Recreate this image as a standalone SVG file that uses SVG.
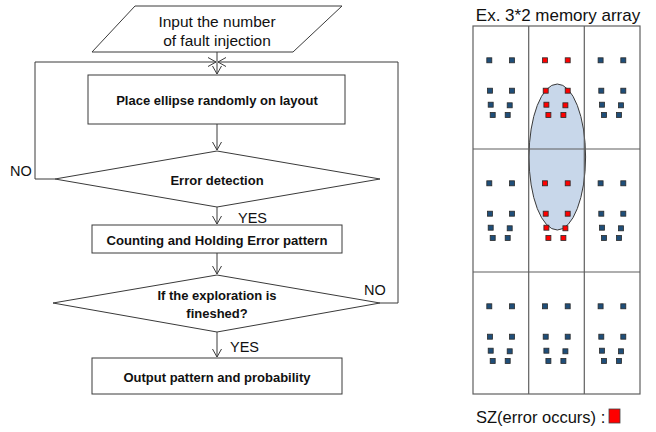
<svg xmlns="http://www.w3.org/2000/svg" xmlns:xlink="http://www.w3.org/1999/xlink" width="656" height="432" viewBox="0 0 656 432">
<style>
.shape{fill:#fff;stroke:#3a3a3a;stroke-width:1}
.line{fill:none;stroke:#3a3a3a;stroke-width:1}
.reg{font-family:"Liberation Sans",Arial,sans-serif;font-size:15.5px;fill:#111;text-anchor:middle}
.bold{font-family:"Liberation Sans",Arial,sans-serif;font-size:13px;font-weight:bold;fill:#111;text-anchor:middle}
.lbl{font-family:"Liberation Sans",Arial,sans-serif;font-size:14.5px;fill:#111}
.grid{fill:none;stroke:#5f5f5f;stroke-width:1.2}
.b{fill:#1f4e79;stroke:#2a2a2a;stroke-width:0.8}
.r{fill:#ff0000;stroke:#2a2a2a;stroke-width:0.8}
</style>
<defs>
<marker id="arr" markerWidth="10" markerHeight="10" refX="8" refY="5" orient="auto" markerUnits="userSpaceOnUse">
<path d="M0,0.5 L8,5 L0,9.5" fill="none" stroke="#3a3a3a" stroke-width="1"/>
</marker>
<g id="cellB">
<rect class="b" x="13.8" y="31.8" width="5" height="5"/><rect class="b" x="36.5" y="31.8" width="5" height="5"/>
<rect class="b" x="14.5" y="62.2" width="5" height="5"/><rect class="b" x="36.5" y="62.2" width="5" height="5"/>
<rect class="b" x="15.2" y="76.2" width="5" height="5"/><rect class="b" x="34.2" y="76.8" width="5" height="5"/>
<rect class="b" x="17.2" y="86.5" width="5" height="5"/><rect class="b" x="32.2" y="86.5" width="5" height="5"/>
</g>
<g id="cellR">
<rect class="r" x="13.8" y="31.8" width="5" height="5"/><rect class="r" x="36.5" y="31.8" width="5" height="5"/>
<rect class="r" x="14.5" y="62.2" width="5" height="5"/><rect class="r" x="36.5" y="62.2" width="5" height="5"/>
<rect class="r" x="15.2" y="76.2" width="5" height="5"/><rect class="r" x="34.2" y="76.8" width="5" height="5"/>
<rect class="r" x="17.2" y="86.5" width="5" height="5"/><rect class="r" x="32.2" y="86.5" width="5" height="5"/>
</g>
</defs>

<g id="connectors">
<path class="line" d="M217,52 L217,74" marker-end="url(#arr)"/>
<path class="line" d="M55,179 L35,179 L35,62 L216,62" marker-end="url(#arr)"/>
<path class="line" d="M380,303 L398,303 L398,62 L218,62" marker-end="url(#arr)"/>
<path class="line" d="M217,124 L217,150" marker-end="url(#arr)"/>
<path class="line" d="M217,207 L217,224" marker-end="url(#arr)"/>
<path class="line" d="M217,253 L217,274" marker-end="url(#arr)"/>
<path class="line" d="M217,332 L217,357" marker-end="url(#arr)"/>
<text class="lbl" x="10" y="176">NO</text>
<text class="lbl" x="238" y="223">YES</text>
<text class="lbl" x="364" y="295">NO</text>
<text class="lbl" x="230" y="352">YES</text>
</g>

<g id="input">
<polygon class="shape" points="135,6 342,6 293,52 92,52"/>
<text class="reg" x="217" y="26.5">Input the number</text>
<text class="reg" x="217" y="45.5">of fault injection</text>
</g>
<g id="place">
<rect class="shape" x="88" y="75" width="257" height="49"/>
<text class="bold" x="217" y="104.5">Place ellipse randomly on layout</text>
</g>
<g id="detect">
<polygon class="shape" points="217,151 380,179 217,207 55,179"/>
<text class="bold" x="217" y="184.5">Error detection</text>
</g>
<g id="count">
<rect class="shape" x="92" y="225" width="250" height="28"/>
<text class="bold" x="217" y="244.5" textLength="221" lengthAdjust="spacingAndGlyphs">Counting and Holding Error pattern</text>
</g>
<g id="finished">
<polygon class="shape" points="217,275 380,303 217,332 53,303"/>
<text class="bold" x="217" y="299.5">If the exploration is</text>
<text class="bold" x="217" y="317.5">fineshed?</text>
</g>
<g id="output">
<rect class="shape" x="92" y="358" width="250" height="36"/>
<text class="bold" x="217" y="381.5">Output pattern and probability</text>
</g>

<g id="memory-array">
<text class="reg" x="558" y="21" style="font-size:17px">Ex. 3*2 memory array</text>
<rect x="473" y="26" width="167" height="368" fill="#fff"/>
<ellipse cx="557.3" cy="157" rx="28.3" ry="73" fill="#c8d7ea" stroke="#3a3a3a" stroke-width="1"/>
<rect class="grid" x="473" y="26" width="167" height="368"/>
<line class="grid" x1="528.7" y1="26" x2="528.7" y2="394"/>
<line class="grid" x1="584.3" y1="26" x2="584.3" y2="394"/>
<line class="grid" x1="473" y1="149" x2="640" y2="149"/>
<line class="grid" x1="473" y1="272" x2="640" y2="272"/>
<use xlink:href="#cellB" transform="translate(473,26)"/>
<use xlink:href="#cellR" transform="translate(528.7,26)"/>
<use xlink:href="#cellB" transform="translate(584.3,26)"/>
<use xlink:href="#cellB" transform="translate(473,149)"/>
<use xlink:href="#cellR" transform="translate(528.7,149)"/>
<use xlink:href="#cellB" transform="translate(584.3,149)"/>
<use xlink:href="#cellB" transform="translate(473,272)"/>
<use xlink:href="#cellB" transform="translate(528.7,272)"/>
<use xlink:href="#cellB" transform="translate(584.3,272)"/>
</g>
<g id="legend">
<text class="lbl" x="476" y="423" style="font-size:16.5px">SZ(error occurs) :</text>
<rect x="609" y="409" width="11" height="14" fill="#ff0000" stroke="#444" stroke-width="0.8"/>
</g>
</svg>
